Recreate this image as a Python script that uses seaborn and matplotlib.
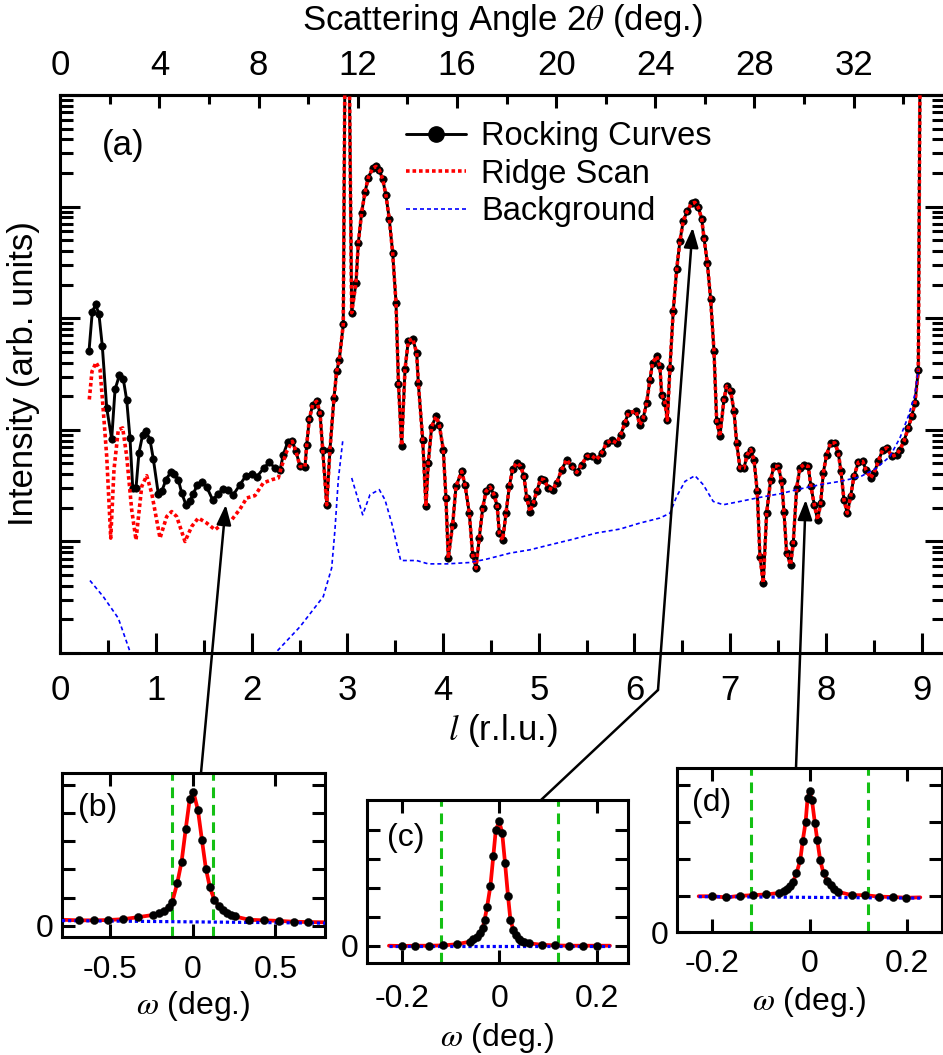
import numpy as np
import pandas as pd
import matplotlib
matplotlib.use("Agg")
import matplotlib.pyplot as plt
from matplotlib.ticker import MultipleLocator, LogLocator, NullFormatter, FixedLocator, FixedFormatter
from matplotlib.lines import Line2D
import seaborn as sns

# ---------------- data ----------------
rock_l = [0.300, 0.334, 0.370, 0.404, 0.439, 0.485, 0.537, 0.572, 0.617, 0.658,
          0.694, 0.728, 0.757, 0.791, 0.822, 0.861, 0.896, 0.937, 0.972, 1.024,
          1.060, 1.104, 1.154, 1.191, 1.233, 1.269, 1.313, 1.355, 1.390, 1.432,
          1.478, 1.530, 1.592, 1.651, 1.703, 1.755, 1.808, 1.878, 1.940, 2.000,
          2.052, 2.128, 2.184, 2.243, 2.296, 2.330, 2.376, 2.424, 2.463, 2.505,
          2.557, 2.575, 2.602, 2.637, 2.679, 2.714, 2.742, 2.784, 2.818, 2.860,
          2.888, 2.915, 2.957, 2.980, 3.011, 3.045, 3.090, 3.114, 3.149, 3.184,
          3.218, 3.264, 3.299, 3.333, 3.369, 3.403, 3.438, 3.473, 3.508, 3.534,
          3.567, 3.602, 3.636, 3.682, 3.724, 3.741, 3.787, 3.821, 3.845, 3.881,
          3.926, 3.960, 4.002, 4.030, 4.054, 4.100, 4.135, 4.194, 4.229, 4.274,
          4.309, 4.344, 4.378, 4.414, 4.448, 4.490, 4.532, 4.566, 4.587, 4.623,
          4.657, 4.692, 4.727, 4.769, 4.811, 4.845, 4.874, 4.908, 4.943, 4.978,
          5.020, 5.054, 5.099, 5.145, 5.187, 5.239, 5.292, 5.344, 5.396, 5.448,
          5.501, 5.553, 5.605, 5.657, 5.710, 5.762, 5.814, 5.856, 5.901, 5.935,
          6.016, 6.057, 6.092, 6.127, 6.162, 6.190, 6.232, 6.266, 6.284, 6.319,
          6.343, 6.371, 6.405, 6.441, 6.475, 6.510, 6.552, 6.598, 6.632, 6.667,
          6.702, 6.726, 6.761, 6.796, 6.831, 6.859, 6.893, 6.935, 6.963, 7.005,
          7.040, 7.068, 7.102, 7.144, 7.179, 7.214, 7.249, 7.283, 7.311, 7.346,
          7.381, 7.423, 7.457, 7.503, 7.538, 7.562, 7.590, 7.632, 7.659, 7.695,
          7.729, 7.771, 7.816, 7.844, 7.879, 7.914, 7.946, 7.973, 8.008, 8.050,
          8.095, 8.130, 8.158, 8.189, 8.224, 8.259, 8.294, 8.339, 8.385, 8.419,
          8.468, 8.503, 8.548, 8.594, 8.641, 8.688, 8.740, 8.774, 8.816, 8.861,
          8.897, 8.931, 8.966, 8.989]
rock_I = [507, 1135, 1330, 1082, 562, 157, 82.8, 230, 307, 286,
          184, 84.6, 30.1, 30.1, 62.1, 90.6, 97.0, 81.7, 54.8, 26.7,
          28.0, 35.7, 41.6, 40.4, 35.7, 27.1, 21.3, 22.8, 26.7, 32.2,
          33.8, 30.7, 23.6, 26.7, 29.5, 28.6, 26.2, 32.2, 38.8, 40.4,
          37.8, 45.5, 51.1, 45.5, 43.3, 59.9, 77.2, 78.9, 64.1, 47.0,
          46.5, 73.6, 124, 168, 180, 142, 66.4, 21.3, 66.4, 193,
          335, 421, 880, 1e6, 1e6, 1120, 2080, 4690, 8850, 13400,
          18200, 22000, 22900, 21300, 17600, 12600, 7710, 3870, 1380, 255,
          72.1, 347, 623, 655, 490, 264, 81.7, 20.6, 50.5, 107,
          132, 111, 66.4, 24.5, 7.08, 14.1, 31.1, 42.4, 32.2, 17.9,
          7.59, 5.76, 10.7, 19.9, 28.0, 30.7, 26.2, 20.6, 11.9, 10.3,
          17.9, 31.1, 44.6, 50.5, 47.0, 38.3, 24.5, 18.5, 22.1, 28.0,
          36.3, 35.7, 30.1, 29.1, 33.4, 43.9, 54.0, 47.0, 41.6, 48.7,
          57.8, 58.7, 54.0, 62.1, 76.3, 80.5, 76.3, 90.6, 115, 142,
          147, 111, 128, 174, 282, 399, 457, 372, 207, 175,
          122, 360, 1160, 2740, 4920, 7450, 9140, 10700, 10900, 9820,
          7820, 5280, 3150, 1480, 507, 119, 87.4, 187, 246, 222,
          147, 76.3, 45.5, 45.5, 59.9, 66.4, 54.0, 28.0, 7.32, 4.22,
          17.9, 35.7, 47.0, 47.0, 34.5, 18.5, 7.85, 6.17, 9.66, 30.1,
          45.5, 48.7, 47.0, 31.1, 21.3, 15.6, 22.1, 41.0, 59.9, 76.3,
          76.3, 62.1, 42.4, 23.6, 17.9, 25.3, 38.3, 51.1, 52.1, 43.9,
          37.0, 41.0, 52.1, 66.4, 68.8, 57.8, 59.9, 66.4, 78.9, 104,
          132, 174, 340, 1e6]

# ridge scan: separate at low l, identical to the rocking curves from l = 2.42 on
ridge_low_l = [0.303, 0.331, 0.373, 0.415, 0.443, 0.485, 0.527, 0.561, 0.606, 0.652,
               0.694, 0.746, 0.791, 0.851, 0.903, 0.955, 1.042, 1.112, 1.164, 1.216,
               1.303, 1.373, 1.442, 1.530, 1.617, 1.703, 1.791, 1.878, 1.948, 2.034,
               2.121, 2.209, 2.278, 2.313, 2.366]
ridge_low_I = [187, 333, 401, 347, 175, 57.8, 10.7, 43.9, 100, 104,
               57.8, 19.2, 10.3, 31.1, 38.8, 27.1, 10.7, 16.7, 18.5, 16.7,
               9.98, 13.6, 16.2, 14.6, 12.7, 14.6, 15.6, 19.5, 24.5, 25.7,
               33.4, 35.7, 37.0, 47.0, 64.1]
ridge_join = 47  # index in rock_l where the two scans coincide

bg_l = [0.310, 0.449, 0.606, 0.728, 0.780,
        2.200, 2.261, 2.505, 2.748, 2.836, 2.870, 2.905, 2.951,
        3.045, 3.160, 3.236, 3.333, 3.393, 3.463, 3.557, 3.724, 3.845, 4.038,
        4.281, 4.456, 4.699, 4.908, 5.117, 5.326, 5.605, 5.849, 6.057, 6.266,
        6.371, 6.441, 6.528, 6.632, 6.719, 6.823, 6.928, 7.102, 7.311, 7.520,
        7.729, 7.938, 8.147, 8.356, 8.531, 8.670, 8.774, 8.861, 8.931, 8.966]
bg_I = [4.46, 3.20, 2.05, 1.03, 0.5,
        0.6, 1.03, 1.72, 3.20, 5.79, 12.7, 35.7, 78.9,
        37.0, 17.3, 26.2, 29.1, 23.6, 14.6, 6.74, 6.74, 6.29, 6.29,
        6.47, 6.94, 7.85, 8.41, 9.32, 10.3, 11.9, 12.9, 14.6, 16.2,
        17.9, 25.3, 34.5, 38.8, 32.2, 22.8, 21.3, 22.8, 24.8, 26.7,
        29.5, 32.2, 34.5, 37.8, 45.5, 57.8, 84.6, 132, 207, 347]
bg_seg = [0] * 5 + [1] * 8 + [2] * 40

two_theta_per_l = 3.86          # top axis: 2theta (deg.) per r.l.u.
l_ticks = list(range(10))
tt_major = [0, 4, 8, 12, 16, 20, 24, 28, 32]
tt_minor = [2, 6, 10, 14, 18, 22, 26, 30, 34]
legend_labels = ["Rocking Curves", "Ridge Scan", "Background"]

# insets: rocking curves (omega in deg., intensity in arb. units)
b_w = [-0.689, -0.597, -0.512, -0.421, -0.331, -0.240, -0.204, -0.171, -0.143, -0.123,
       -0.093, -0.067, -0.042, -0.018, 0.004, 0.032, 0.056, 0.080, 0.104, 0.131,
       0.157, 0.181, 0.205, 0.230, 0.254, 0.340, 0.431, 0.522, 0.611, 0.697]
b_I = [0.20, 0.20, 0.21, 0.24, 0.31, 0.39, 0.45, 0.54, 0.68, 0.86,
       1.52, 2.27, 3.43, 4.48, 4.75, 4.09, 3.04, 2.02, 1.37, 0.92,
       0.72, 0.58, 0.46, 0.40, 0.34, 0.22, 0.20, 0.18, 0.15, 0.14]
b_fit_ends_w, b_fit_ends_I = [-0.79, 0.80], [0.22, 0.13]
b_bg_w, b_bg_I = [-0.79, 0.80], [0.19, 0.10]
b_win = [-0.123, 0.123]

c_w = [-0.200, -0.172, -0.144, -0.115, -0.087, -0.060, -0.053, -0.046, -0.040, -0.034,
       -0.030, -0.025, -0.018, -0.012, -0.007, 0.000, 0.006, 0.012, 0.018, 0.023,
       0.029, 0.034, 0.040, 0.045, 0.051, 0.062, 0.088, 0.115, 0.144, 0.171, 0.200]
c_I = [0.00, 0.01, 0.01, 0.02, 0.06, 0.15, 0.23, 0.32, 0.46, 0.61,
       0.90, 1.33, 2.07, 3.11, 3.99, 4.29, 3.91, 2.85, 1.73, 0.90,
       0.55, 0.37, 0.25, 0.18, 0.14, 0.09, 0.04, 0.02, 0.01, 0.01, 0.01]
c_fit_ends_w, c_fit_ends_I = [-0.226, 0.227], [0.01, 0.01]
c_bg_w, c_bg_I = [-0.226, 0.227], [0.0, 0.0]
c_win = [-0.12, 0.12]

d_w = [-0.201, -0.171, -0.144, -0.116, -0.089, -0.062, -0.053, -0.047, -0.040, -0.034,
       -0.027, -0.019, -0.014, -0.008, -0.004, 0.000, 0.005, 0.011, 0.016, 0.022,
       0.029, 0.037, 0.044, 0.051, 0.059, 0.087, 0.115, 0.142, 0.172, 0.199]
d_I = [0.98, 0.95, 0.99, 1.01, 1.03, 1.07, 1.12, 1.19, 1.27, 1.37,
       1.60, 1.96, 2.48, 3.00, 3.64, 3.84, 3.60, 2.98, 2.51, 1.96,
       1.60, 1.40, 1.29, 1.19, 1.10, 1.01, 1.01, 0.97, 0.96, 0.94]
d_fit_ends_w, d_fit_ends_I = [-0.228, 0.228], [0.98, 0.95]
d_bg_w, d_bg_I = [-0.228, 0.228], [0.97, 0.93]
d_win = [-0.12, 0.12]

# ---------------- style ----------------
sns.set_theme(style="ticks")
plt.rcParams["font.family"] = ["Liberation Sans", "DejaVu Sans"]
plt.rcParams.update({
    "mathtext.fontset": "stix",
    "axes.unicode_minus": False,
    "axes.edgecolor": "black",
    "axes.linewidth": 2.2,
    "text.color": "black",
    "axes.labelcolor": "black",
    "xtick.color": "black",
    "ytick.color": "black",
    "lines.dash_capstyle": "butt",
})

W, H = 943, 1055
fig = plt.figure(figsize=(W / 100, H / 100), dpi=100)


def px_rect(left, top, right, bottom):
    return [left / W, (H - bottom) / H, (right - left) / W, (bottom - top) / H]


RED_DOT = (0, (1, 0.8))
BLUE_DASH = (0, (2.4, 1.8))

# ---------------- main panel (a) ----------------
ax = fig.add_axes(px_rect(60.3, 95, 945, 653))

rock_df = pd.DataFrame({"l": rock_l, "I": rock_I})
ridge_df = pd.DataFrame({"l": ridge_low_l + rock_l[ridge_join:],
                         "I": ridge_low_I + rock_I[ridge_join:]})
bg_df = pd.DataFrame({"l": bg_l, "I": bg_I, "seg": bg_seg})

sns.lineplot(data=rock_df, x="l", y="I", ax=ax, estimator=None, sort=False,
             color="black", lw=2.1, marker="o", markersize=5.3,
             markeredgecolor="black", markerfacecolor="black",
             markeredgewidth=0.5, zorder=3)
sns.lineplot(data=ridge_df, x="l", y="I", ax=ax, estimator=None, sort=False,
             color="red", lw=2.6, linestyle=RED_DOT, zorder=4)
sns.lineplot(data=bg_df, x="l", y="I", units="seg", ax=ax, estimator=None,
             sort=False, color="blue", lw=1.2, linestyle=BLUE_DASH, zorder=5)

ax.set_yscale("log")
ax.set_ylim(1, 1e5)
ax.set_xlim(0, 9.245)
ax.xaxis.set_major_locator(FixedLocator(l_ticks))
ax.xaxis.set_minor_locator(MultipleLocator(0.5))
ax.yaxis.set_major_locator(LogLocator(base=10, numticks=10))
ax.yaxis.set_minor_locator(LogLocator(base=10, subs=np.arange(2, 10), numticks=30))
ax.yaxis.set_major_formatter(NullFormatter())
ax.yaxis.set_minor_formatter(NullFormatter())
ax.tick_params(axis="both", which="both", direction="in", width=2.2,
               top=False, right=True, left=True, bottom=True)
ax.tick_params(axis="both", which="major", length=14.4)
ax.tick_params(axis="both", which="minor", length=9.4)
ax.tick_params(axis="x", which="major", labelsize=25, pad=15)
ax.set_xlabel(r"$l$ (r.l.u.)", fontsize=25, labelpad=4)
ax.set_ylabel("Intensity (arb. units)", fontsize=25, labelpad=11)

sec = ax.secondary_xaxis("top", functions=(lambda v: v * two_theta_per_l,
                                            lambda v: v / two_theta_per_l))
sec.xaxis.set_major_locator(FixedLocator(tt_major))
sec.xaxis.set_minor_locator(FixedLocator(tt_minor))
sec.xaxis.set_major_formatter(FixedFormatter([str(v) for v in tt_major]))
sec.tick_params(which="both", direction="in", width=2.2, labelsize=25, pad=9)
sec.tick_params(which="major", length=9.4)
sec.tick_params(which="minor", length=6.5)
sec.spines["top"].set_linewidth(2.2)
sec.set_xlabel(r"Scattering Angle 2$\theta$ (deg.)", fontsize=25, labelpad=14)

ax.text(0.0468, 0.910, "(a)", transform=ax.transAxes, fontsize=25,
        ha="left", va="center")

handles = [Line2D([], [], color="black", lw=2.1, marker="o", ms=11),
           Line2D([], [], color="red", lw=2.6, ls=RED_DOT),
           Line2D([], [], color="blue", lw=1.2, ls=BLUE_DASH)]
fig.legend(handles, legend_labels, loc="upper left",
           bbox_to_anchor=(406 / W, (H - 121) / H), frameon=False,
           fontsize=23.5, handlelength=1.85, handletextpad=0.45,
           labelspacing=0.2, borderpad=0, borderaxespad=0)


# ---------------- insets ----------------
def draw_inset(rect, pts_w, pts_I, ends_w, ends_I, bgw, bgI, win, xlim, ylim,
               xticks, xticklabels, yticks, tag, tagxy, xpad, xlabelpad):
    a = fig.add_axes(rect)
    fit_w = [ends_w[0]] + pts_w + [ends_w[1]]
    fit_I = [ends_I[0]] + pts_I + [ends_I[1]]
    for v in win:
        a.axvline(v, color="#14c014", lw=2.2, ls=(0, (3.5, 2.2)), zorder=1)
    sns.lineplot(x=fit_w, y=fit_I, ax=a, estimator=None, sort=False,
                 color="red", lw=2.7, zorder=2)
    sns.lineplot(x=bgw, y=bgI, ax=a, estimator=None, sort=False,
                 color="blue", lw=2.3, linestyle=(0, (1, 0.9)), zorder=3)
    sns.scatterplot(x=pts_w, y=pts_I, ax=a, color="black", s=34,
                    edgecolor="black", linewidth=0.3, zorder=4)
    a.set_xlim(*xlim)
    a.set_ylim(*ylim)
    a.xaxis.set_major_locator(FixedLocator(xticks))
    a.xaxis.set_major_formatter(FixedFormatter(xticklabels))
    a.yaxis.set_major_locator(FixedLocator(yticks))
    a.yaxis.set_major_formatter(FixedFormatter(["0"] + [""] * (len(yticks) - 1)))
    a.tick_params(which="both", direction="in", width=2.2, length=9.4,
                  top=True, right=True, labelsize=23)
    a.tick_params(axis="x", pad=xpad)
    a.tick_params(axis="y", pad=6)
    for s in a.spines.values():
        s.set_linewidth(2.2)
    a.set_xlabel(r"$\omega$ (deg.)", fontsize=23, labelpad=xlabelpad)
    a.set_ylabel("")
    a.text(tagxy[0], tagxy[1], tag, transform=a.transAxes, fontsize=23,
           ha="left", va="center")
    return a


draw_inset(px_rect(62, 773, 325, 937), b_w, b_I, b_fit_ends_w, b_fit_ends_I,
           b_bg_w, b_bg_I, b_win, (-0.79, 0.80), (-0.39, 5.41),
           [-0.5, 0, 0.5], ["-0.5", "0", "0.5"], [0, 1, 2, 3, 4, 5],
           "(b)", (0.061, 0.787), 13, 3)
draw_inset(px_rect(367, 800, 628, 963), c_w, c_I, c_fit_ends_w, c_fit_ends_I,
           c_bg_w, c_bg_I, c_win, (-0.271, 0.264), (-0.586, 5.03),
           [-0.2, 0, 0.2], ["-0.2", "0", "0.2"], [0, 1, 2, 3, 4],
           "(c)", (0.077, 0.767), 15, 5)
draw_inset(px_rect(677.3, 768.3, 941.7, 932.3), d_w, d_I, d_fit_ends_w, d_fit_ends_I,
           d_bg_w, d_bg_I, d_win, (-0.272, 0.272), (0, 4.46),
           [-0.2, 0, 0.2], ["-0.2", "0", "0.2"], [0, 1, 2, 3, 4],
           "(d)", (0.056, 0.788), 12, 4)

# ---------------- arrows linking the insets to the main curve ----------------
arrow_kw = dict(arrowstyle="-|>,head_length=0.6,head_width=0.22", color="black",
                lw=1.8, mutation_scale=20, shrinkA=0, shrinkB=0)
ax.annotate("", xy=(1.729, 21.3), xycoords="data", xytext=(201, H - 773),
            textcoords="figure pixels", arrowprops=arrow_kw, annotation_clip=False,
            zorder=10)
fig.add_artist(Line2D([541 / W, 658 / W], [(H - 800) / H, (H - 690) / H],
                      transform=fig.transFigure, color="black", lw=1.8))
ax.annotate("", xy=(6.608, 6490), xycoords="data", xytext=(658, H - 690),
            textcoords="figure pixels", arrowprops=arrow_kw, annotation_clip=False,
            zorder=10)
ax.annotate("", xy=(7.789, 23.6), xycoords="data", xytext=(796, H - 768),
            textcoords="figure pixels", arrowprops=arrow_kw, annotation_clip=False,
            zorder=10)

fig.savefig("out.png", dpi=100)
